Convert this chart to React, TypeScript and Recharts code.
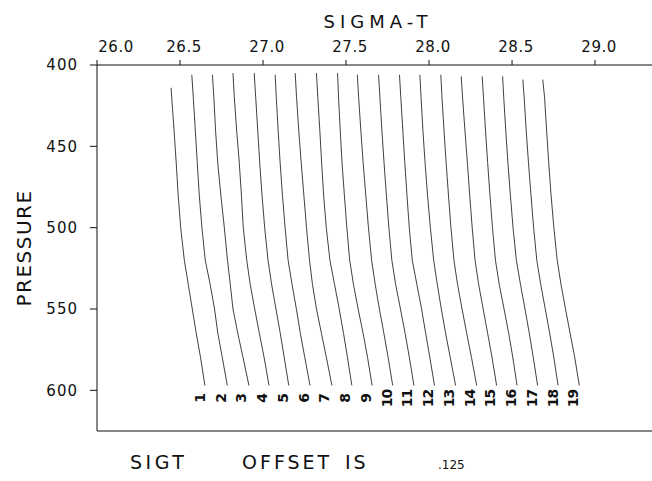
import React from "react";
import { ScatterChart, Scatter, XAxis, YAxis, ReferenceLine } from "recharts";

// axis ticks
const SIGMA_TICKS = [26.0, 26.5, 27.0, 27.5, 28.0, 28.5, 29.0];
const PRESSURE_TICKS = [400, 450, 500, 550, 600];

// pressure levels below the first (top) point of every profile
const LEVELS = [420, 440, 460, 480, 500, 520, 535, 550, 565, 580, 597];
// pressure of the top point of each profile
const TOP_PRESSURE = [
  414, 406, 406, 405, 405, 406, 405, 405, 405, 406, 406, 406, 406, 406, 407,
  407, 407, 409, 409,
];

// raw sigma-t of each profile (before the plotting offset), top point first
const PROFILES = [
  [26.446, 26.45, 26.464, 26.477, 26.489, 26.504, 26.526, 26.55, 26.574, 26.598, 26.624, 26.65],
  [26.446, 26.455, 26.467, 26.479, 26.491, 26.507, 26.527, 26.557, 26.583, 26.603, 26.63, 26.66],
  [26.445, 26.454, 26.464, 26.477, 26.496, 26.517, 26.536, 26.553, 26.569, 26.598, 26.63, 26.665],
  [26.444, 26.452, 26.466, 26.482, 26.495, 26.506, 26.527, 26.548, 26.575, 26.603, 26.632, 26.661],
  [26.447, 26.456, 26.468, 26.48, 26.494, 26.51, 26.53, 26.552, 26.578, 26.604, 26.628, 26.655],
  [26.448, 26.455, 26.466, 26.478, 26.492, 26.508, 26.526, 26.55, 26.576, 26.6, 26.627, 26.658],
  [26.444, 26.452, 26.465, 26.48, 26.496, 26.512, 26.53, 26.548, 26.572, 26.602, 26.632, 26.665],
  [26.447, 26.455, 26.467, 26.478, 26.49, 26.506, 26.528, 26.556, 26.584, 26.61, 26.634, 26.66],
  [26.449, 26.455, 26.465, 26.476, 26.49, 26.505, 26.522, 26.545, 26.573, 26.603, 26.63, 26.657],
  [26.443, 26.451, 26.464, 26.478, 26.494, 26.51, 26.529, 26.551, 26.576, 26.603, 26.629, 26.656],
  [26.446, 26.454, 26.466, 26.479, 26.493, 26.508, 26.526, 26.549, 26.578, 26.606, 26.632, 26.659],
  [26.447, 26.455, 26.467, 26.479, 26.492, 26.506, 26.524, 26.552, 26.58, 26.605, 26.63, 26.658],
  [26.445, 26.452, 26.463, 26.476, 26.491, 26.508, 26.528, 26.55, 26.574, 26.6, 26.628, 26.66],
  [26.446, 26.453, 26.465, 26.478, 26.492, 26.507, 26.525, 26.547, 26.574, 26.602, 26.631, 26.662],
  [26.444, 26.452, 26.466, 26.481, 26.495, 26.51, 26.527, 26.549, 26.576, 26.603, 26.63, 26.657],
  [26.445, 26.453, 26.465, 26.478, 26.492, 26.507, 26.525, 26.548, 26.577, 26.605, 26.63, 26.655],
  [26.443, 26.45, 26.462, 26.475, 26.49, 26.506, 26.526, 26.551, 26.578, 26.604, 26.628, 26.654],
  [26.44, 26.448, 26.46, 26.474, 26.489, 26.505, 26.524, 26.548, 26.575, 26.602, 26.627, 26.652],
  [26.435, 26.446, 26.458, 26.471, 26.485, 26.502, 26.522, 26.545, 26.572, 26.6, 26.628, 26.655],
];

const SIGT_OFFSET = 0.125;
// where the profile numbers sit (sigma of profile 1, pressure)
const LABEL_SIGMA = 26.62;
const LABEL_PRESSURE = 605;

const FONT = "'DejaVu Sans', sans-serif";
const INK = "#111";

const series = PROFILES.map((vals, i) =>
  vals.map((s, j) => ({
    sigma: s + i * SIGT_OFFSET,
    pressure: j === 0 ? TOP_PRESSURE[i] : LEVELS[j - 1],
  }))
);

const labelData = PROFILES.map((_, i) => ({
  sigma: LABEL_SIGMA + i * SIGT_OFFSET,
  pressure: LABEL_PRESSURE,
  name: String(i + 1),
}));

// top axis tick, first label sits to the right of its tick like the plotter did
const SigmaTick = ({ x, y, payload, index }: any) => (
  <text
    x={x + (index === 0 ? 19 : 4)}
    y={y}
    textAnchor="middle"
    fontFamily={FONT}
    fontSize={15}
    letterSpacing={0.5}
    fill={INK}
  >
    {Number(payload.value).toFixed(1)}
  </text>
);

const NumberLabel = (props: any) => {
  const { cx, cy, payload } = props;
  return (
    <text
      x={cx}
      y={cy}
      transform={`rotate(-90 ${cx} ${cy})`}
      textAnchor="middle"
      dominantBaseline="central"
      fontFamily={FONT}
      fontSize={14}
      fontWeight="bold"
      letterSpacing={-1}
      fill={INK}
    >
      {payload?.name}
    </text>
  );
};

const NoDot = () => <g />;

export default function App() {
  return (
    <div
      style={{
        position: "absolute",
        left: 0,
        top: 0,
        width: 652,
        height: 481,
        background: "#fff",
      }}
    >
      <ScatterChart
        width={652}
        height={481}
        margin={{ top: 0, right: 0, bottom: 50, left: 0 }}
      >
        <XAxis
          type="number"
          dataKey="sigma"
          orientation="top"
          domain={[26, 29.343]}
          allowDataOverflow
          ticks={SIGMA_TICKS}
          tick={<SigmaTick />}
          tickSize={5}
          tickMargin={8}
          height={65}
          stroke={INK}
        />
        <YAxis
          type="number"
          dataKey="pressure"
          reversed
          domain={[400, 625]}
          allowDataOverflow
          ticks={PRESSURE_TICKS}
          tickSize={7}
          tickMargin={12}
          width={97}
          stroke={INK}
          tick={{ fontSize: 15, fill: INK, fontFamily: FONT, letterSpacing: 1 }}
        />
        <ReferenceLine y={625} stroke={INK} strokeWidth={1.2} ifOverflow="visible" />
        {series.map((data, i) => (
          <Scatter
            key={`prof-${i}`}
            data={data}
            line={{ stroke: "#2a2a2a", strokeWidth: 0.9 }}
            shape={NoDot}
            isAnimationActive={false}
          />
        ))}
        <Scatter data={labelData} shape={NumberLabel} isAnimationActive={false} />
      </ScatterChart>
      <svg
        width={652}
        height={481}
        style={{ position: "absolute", left: 0, top: 0, pointerEvents: "none" }}
      >
        <text
          x={378}
          y={28}
          textAnchor="middle"
          fontFamily={FONT}
          fontSize={18}
          letterSpacing={5}
          fill={INK}
        >
          SIGMA-T
        </text>
        <text
          x={31}
          y={248}
          transform="rotate(-90 31 248)"
          textAnchor="middle"
          fontFamily={FONT}
          fontSize={20}
          letterSpacing={1.5}
          fill={INK}
        >
          PRESSURE
        </text>
        <g fontFamily={FONT} fill={INK}>
          <text x={130} y={469} fontSize={19} letterSpacing={3.5}>
            SIGT
          </text>
          <text x={242} y={469} fontSize={19} letterSpacing={3}>
            OFFSET
          </text>
          <text x={345} y={469} fontSize={19} letterSpacing={3}>
            IS
          </text>
          <text x={438} y={469} fontSize={12}>
            .125
          </text>
        </g>
      </svg>
    </div>
  );
}
